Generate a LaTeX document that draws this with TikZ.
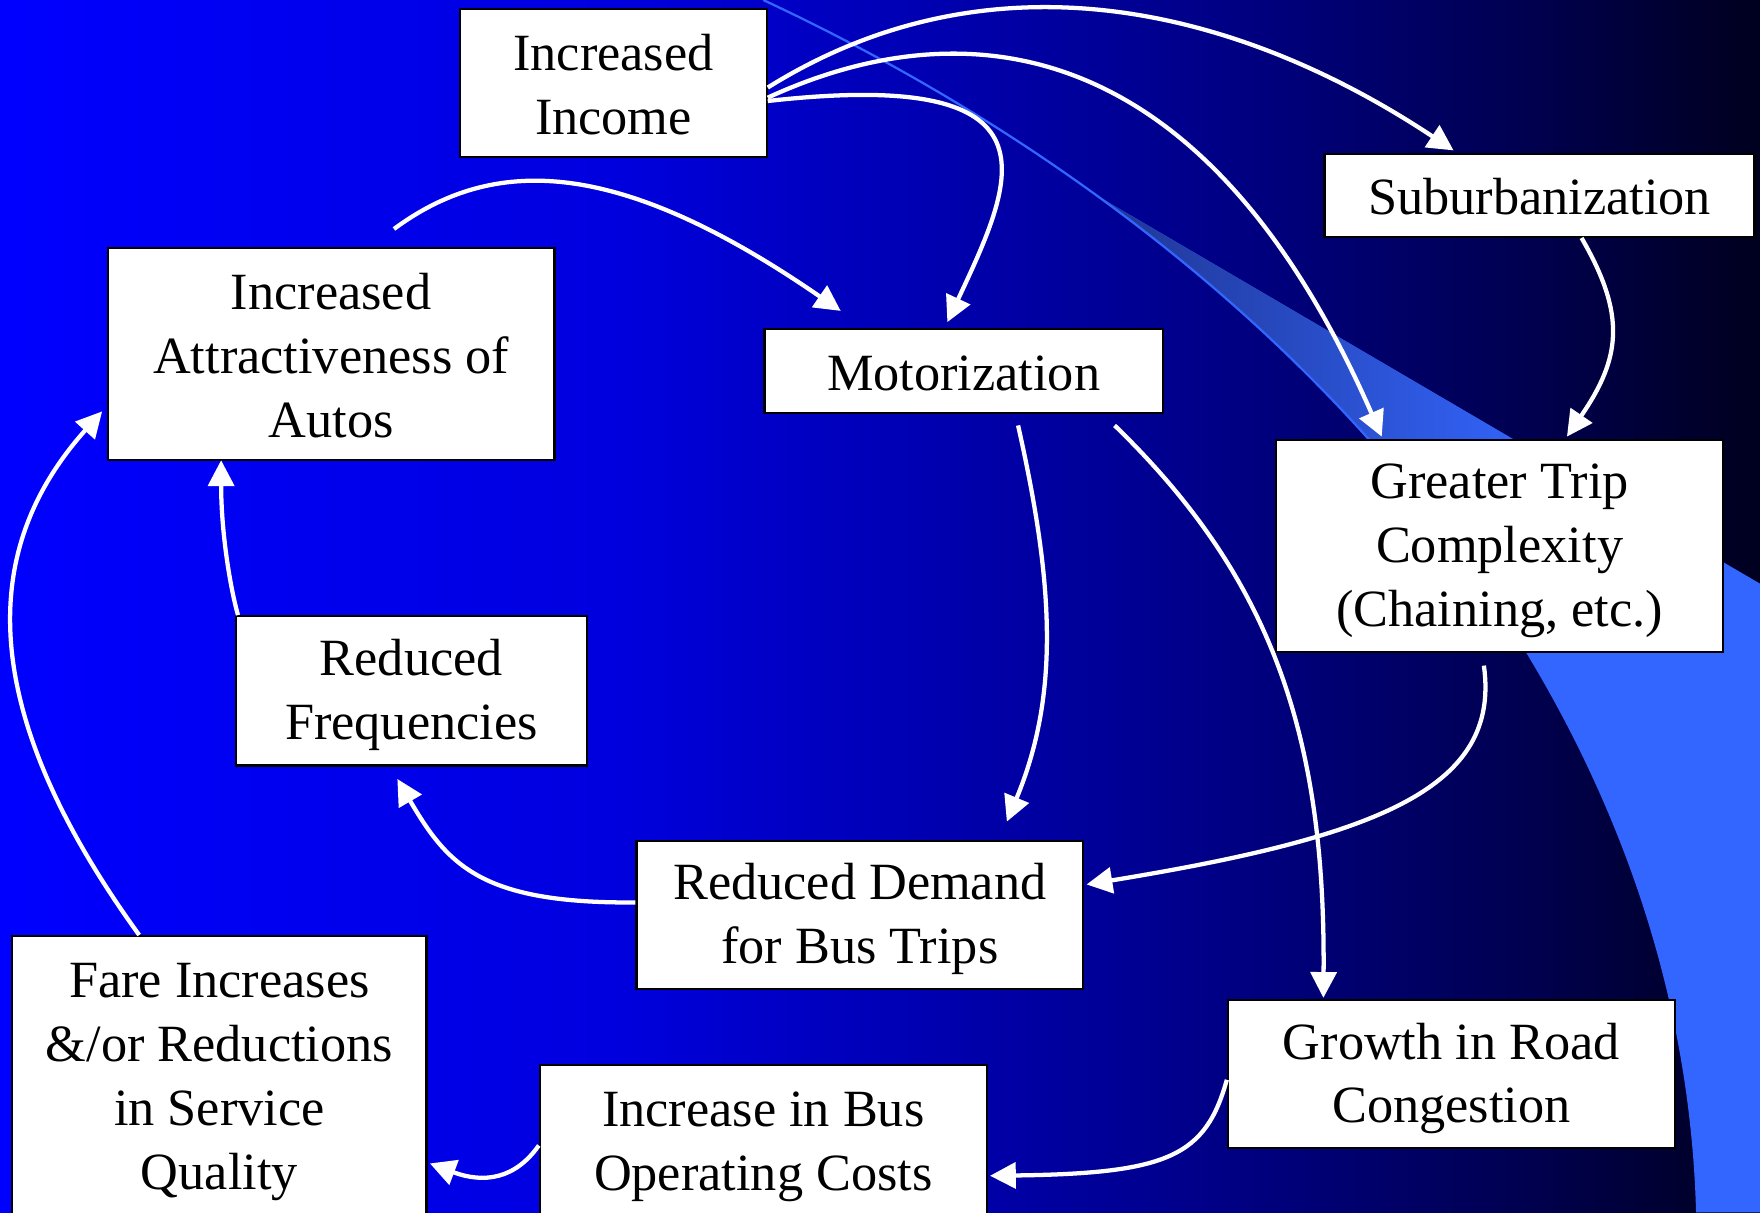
\documentclass[tikz,border=0pt]{standalone}
\usepackage{fontspec}
\setmainfont{Liberation Serif}
\usetikzlibrary{arrows.meta,calc}
\definecolor{lightblue}{RGB}{51,102,255}
\definecolor{wedgedark}{RGB}{30,50,140}
\pgfdeclarehorizontalshading{bgshade}{100bp}{rgb(0bp)=(0,0,1); rgb(25bp)=(0,0,1); rgb(42.5bp)=(0,0,0.87); rgb(58.5bp)=(0,0,0.55); rgb(68.5bp)=(0,0,0.31); rgb(75bp)=(0,0,0.12); rgb(100bp)=(0,0,0.12)}
\newcommand{\lst}{\rule[-3pt]{0pt}{23pt}}
\tikzset{
 box/.style={draw=black, line width=1pt, fill=white, align=center, inner sep=0pt,
   font=\fontsize{23.3}{28.5}\selectfont},
 flow/.style={draw=white, line width=1.9pt, -{Triangle[length=11.5pt,width=11.5pt]}},
}
\begin{document}
\begin{tikzpicture}[x=0.5pt,y=-0.5pt]
\useasboundingbox (0,0) rectangle (1568,1080);
\clip (0,0) rectangle (1568,1080);
% background
\shade[shading=bgshade] (0,0) rectangle (1568,1080);
\begin{scope}
 \clip (680,0) .. controls (1155,222) and (1500,620) .. (1512,1080) -- (1568,1080) -- (1568,0) -- cycle;
 \fill[lightblue] (946,156) -- (1568,520) -- (1568,1080) -- (946,1080) -- cycle;
 \clip (946,156) -- (1568,520) -- (1568,1080) -- (946,1080) -- cycle;
 \shade[left color=wedgedark,right color=lightblue] (950,0) rectangle (1380,400);
\end{scope}
\draw[lightblue,line width=1pt] (680,0) .. controls (1155,222) and (1500,620) .. (1512,1080);
% nodes
\node[box, minimum width=136.5pt, minimum height=66pt] (inc) at (546.5,74) {\lst Increased\\Income\lst};
\node[box, minimum width=191.5pt, minimum height=37pt] (sub) at (1371.5,174) {\lst Suburbanization\lst};
\node[box, minimum width=199pt, minimum height=94.5pt] (att) at (295,315.5) {\lst Increased\\Attractiveness of\\Autos\lst};
\node[box, minimum width=177.5pt, minimum height=37.5pt] (mot) at (858.5,330.5) {\lst Motorization\lst};
\node[box, minimum width=199pt, minimum height=94.5pt] (gtc) at (1336,486.5) {\lst Greater Trip\\Complexity\\(Chaining, etc.)\lst};
\node[box, minimum width=156.5pt, minimum height=66.5pt] (red) at (366.5,615.5) {\lst Reduced\\Frequencies\lst};
\node[box, minimum width=199pt, minimum height=66pt] (dem) at (766,815) {\lst Reduced Demand\\for Bus Trips\lst};
\node[box, minimum width=199pt, minimum height=66pt] (grw) at (1293,957) {\lst Growth in Road\\Congestion\lst};
\node[box, minimum width=184.5pt, minimum height=125.5pt] (fare) at (195.5,959.5) {\lst Fare Increases\\\&/or Reductions\\in Service\\Quality\lst};
\node[box, minimum width=199pt, minimum height=68.5pt] (ibc) at (680,1017.5) {\lst Increase in Bus\\Operating Costs\lst};
% connectors
\draw[flow] ($(inc.east)+(0,4)$) .. controls +(197,-123) and +(-196,-130) .. ($(sub.north west)+(116,-2)$);
\draw[flow] ($(inc.east)+(0,13)$) .. controls +(167,-77) and +(-162,-370) .. ($(gtc.north west)+(95,-2)$);
\draw[flow] ($(inc.east)+(0,16)$) .. controls +(267,-30) and +(60,-128) .. ($(mot.north west)+(164,-5)$);
\draw[flow] ($(att.north west)+(256,-16)$) .. controls +(88,-65) and +(-200,-138) .. ($(mot.north west)+(69,-15)$);
\draw[flow] ($(mot.south west)+(227,10)$) .. controls +(32,142) and +(47,-113) .. ($(dem.north west)+(331,-16)$);
\draw[flow] ($(mot.south west)+(313,10)$) .. controls +(136,132) and +(2,-240) .. ($(grw.north west)+(86,-1)$);
\draw[flow] ($(sub.south west)+(230,0)$) .. controls +(40,69) and +(48,-70) .. ($(gtc.north west)+(260,-2)$);
\draw[flow] ($(gtc.south west)+(186,11)$) .. controls +(15,108) and +(263,-43) .. ($(dem.east)+(2,-27)$);
\draw[flow] ($(dem.west)+(0,-11)$) .. controls +(-137,1) and +(45,77) .. ($(red.south west)+(145,11)$);
\draw[flow] ($(red.north west)+(3,0)$) .. controls +(-8,-29) and +(0,61) .. ($(att.south west)+(102,-1)$);
\draw[flow] ($(fare.north west)+(114,0)$) .. controls +(-155,-214) and +(-102,114) .. ($(att.west)+(-4,51)$);
\draw[flow] ($(grw.west)+(0,5)$) .. controls +(-19,68) and +(159,-2) .. ($(ibc.east)+(2,30)$);
\draw[flow] ($(ibc.west)+(0,3)$) .. controls +(-21,30) and +(48,18) .. ($(fare.east)+(2,77)$);
\end{tikzpicture}
\end{document}
